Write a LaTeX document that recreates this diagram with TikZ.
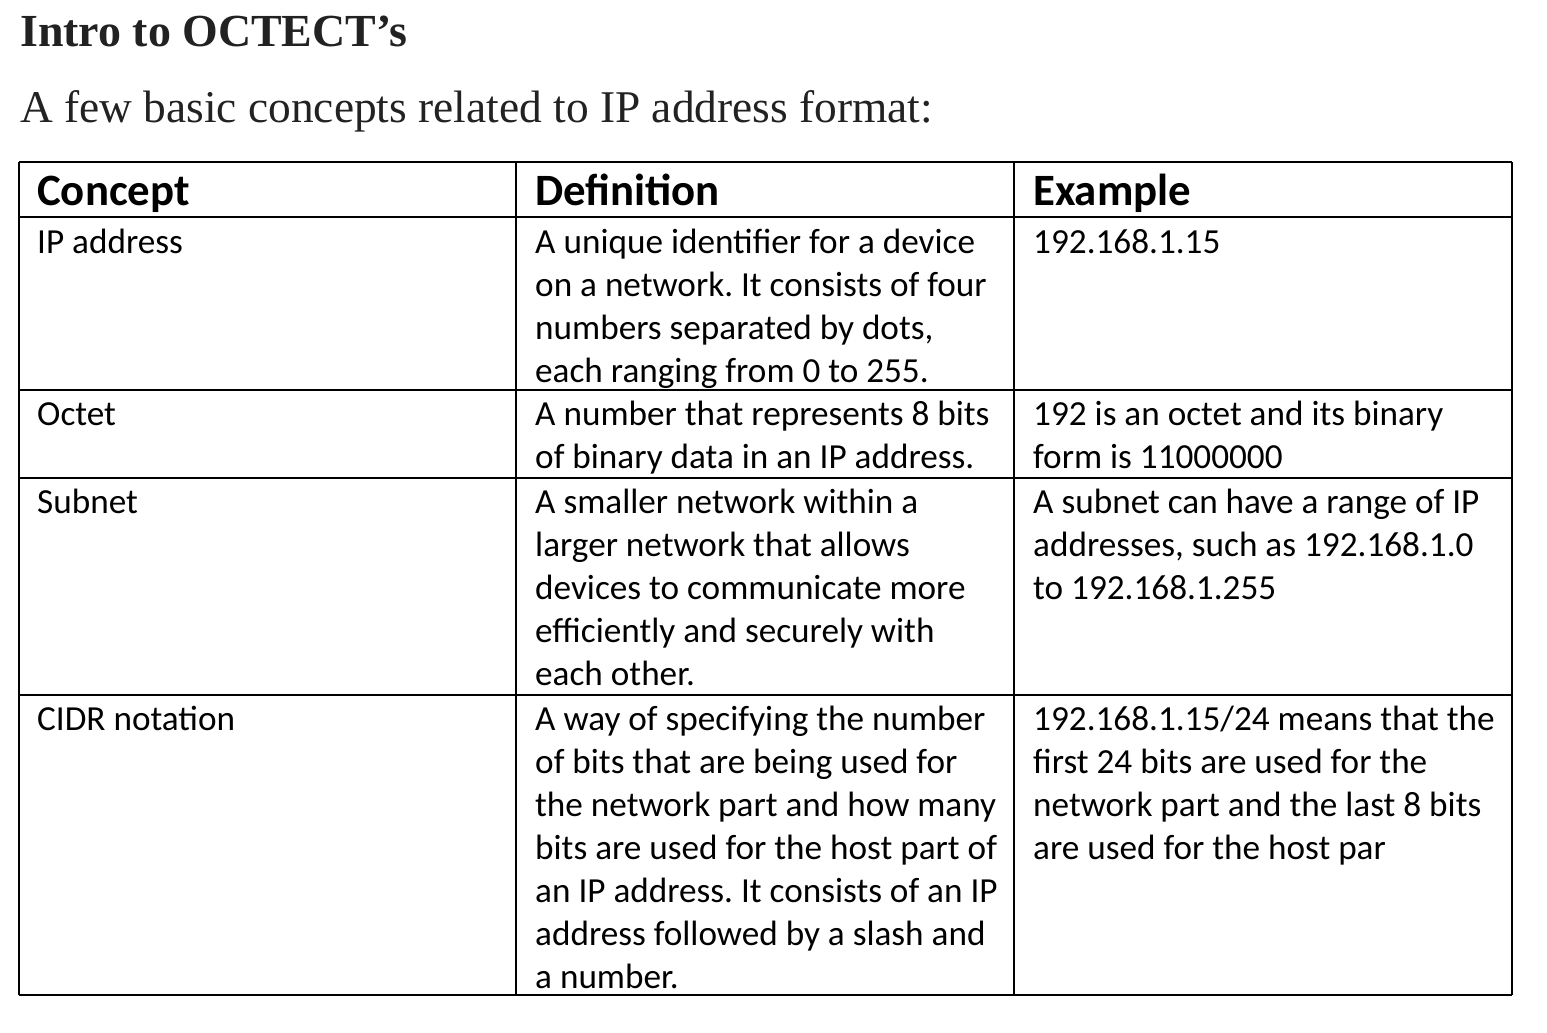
\documentclass[tikz,border=0pt]{standalone}
\usepackage{fontspec}
\setmainfont{Carlito}
\newfontfamily\titlefont{Liberation Serif}
\usetikzlibrary{positioning}
\definecolor{titlegray}{RGB}{34,34,34}
\frenchspacing

\begin{document}
\begin{tikzpicture}[
      x=1pt, y=-1pt,
      grid/.style={line width=1.6pt, black},
      cell/.style={anchor=base west, align=left, inner sep=0pt,
        font=\fontsize{35.2}{43}\selectfont},
      head/.style={anchor=base west, inner sep=0pt,
        font=\fontsize{44.8}{50}\selectfont\bfseries},
      heading/.style={anchor=base west, inner sep=0pt, text=titlegray}
    ]
      \useasboundingbox[fill=white] (0,0) rectangle (1547,1033);

      % Title and subtitle
      \node[heading, font=\titlefont\fontsize{45.9}{50}\selectfont\bfseries] (title) at (20,47) {Intro to OCTECT’s};
      \node[heading, font=\titlefont\fontsize{45.4}{50}\selectfont] (subtitle) at (20,122) {A few basic concepts related to IP address format:};

      % Table grid
      \foreach \x in {19,516,1014,1512}
        \draw[grid] (\x,162) -- (\x,995);
      \foreach \y in {162,217,390,478,695,995}
        \draw[grid] (19,\y) -- (1512,\y);

      % Header
      \node[head] (hconcept) at (37,205) {Concept};
      \node[head] (hdefinition) at (535,205) {Definition};
      \node[head] (hexample) at (1033,205) {Example};

      % IP address (multi-line cells sit on their last baseline)
      \node[cell] (ipc) at (37,253) {IP address};
      \node[cell] (ipd) at (535,382) {A unique identifier for a device\\on a network. It consists of four\\numbers separated by dots,\\each ranging from 0 to 255.};
      \node[cell] (ipe) at (1033,253) {192.168.1.15};

      % Octet
      \node[cell] (octc) at (37,425) {Octet};
      \node[cell] (octd) at (535,468) {A number that represents 8 bits\\of binary data in an IP address.};
      \node[cell] (octe) at (1033,468) {192 is an octet and its binary\\form is 11000000};

      % Subnet
      \node[cell] (subc) at (37,513) {Subnet};
      \node[cell] (subd) at (535,685) {A smaller network within a\\larger network that allows\\devices to communicate more\\efficiently and securely with\\each other.};
      \node[cell] (sube) at (1033,599) {A subnet can have a range of IP\\addresses, such as 192.168.1.0\\to 192.168.1.255};

      % CIDR notation
      \node[cell] (cidrc) at (37,730) {CIDR notation};
      \node[cell] (cidrd) at (535,988) {A way of specifying the number\\of bits that are being used for\\the network part and how many\\bits are used for the host part of\\an IP address. It consists of an IP\\address followed by a slash and\\a number.};
      \node[cell] (cidre) at (1033,859) {192.168.1.15/24 means that the\\first 24 bits are used for the\\network part and the last 8 bits\\are used for the host par};
    \end{tikzpicture}
\end{document}
